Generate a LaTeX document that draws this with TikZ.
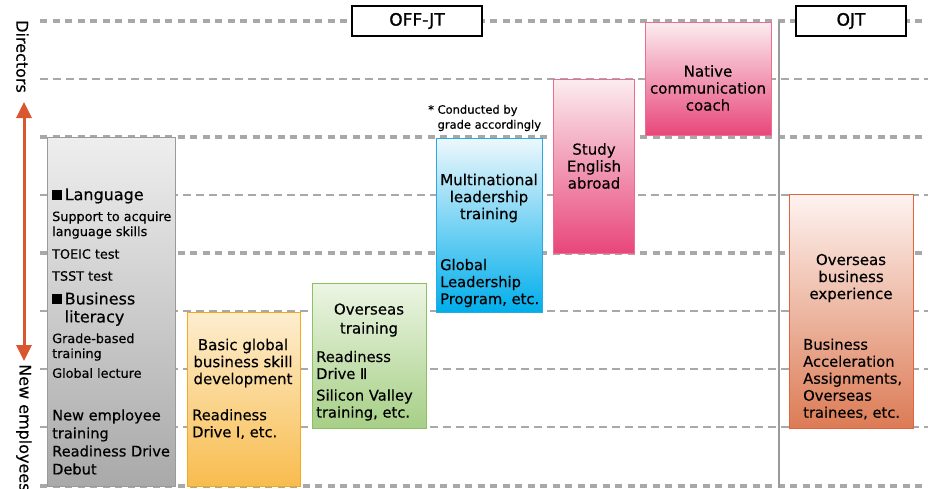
\documentclass[tikz,border=0pt]{standalone}
\usepackage{fontspec}
\setmainfont[FakeBold=0.4]{DejaVu Sans}
\newfontfamily\tagfont[FakeBold=1.2]{DejaVu Sans}
\usetikzlibrary{arrows.meta}
\definecolor{gridc}{HTML}{A8A8A8}
\definecolor{arrowc}{HTML}{D9572F}
\definecolor{grayT}{HTML}{EEEEEE}\definecolor{grayB}{HTML}{A9A9A9}\definecolor{grayD}{HTML}{9A9A9A}
\definecolor{orT}{HTML}{FDEECF}\definecolor{orB}{HTML}{F8BC4E}\definecolor{orD}{HTML}{F5A81C}
\definecolor{grT}{HTML}{ECF5E3}\definecolor{grB}{HTML}{A6CF86}\definecolor{grD}{HTML}{8CC063}
\definecolor{blT}{HTML}{EDF7FC}\definecolor{blB}{HTML}{00AEEB}\definecolor{blD}{HTML}{29ABE2}
\definecolor{pkT}{HTML}{FBECF0}\definecolor{pkB}{HTML}{E8467A}\definecolor{pkD}{HTML}{EC6C92}
\definecolor{ojT}{HTML}{FEF3F0}\definecolor{ojB}{HTML}{DC7B55}\definecolor{ojD}{HTML}{E2643E}
\newcommand{\bsq}{\rule[0.5pt]{9.5pt}{9.5pt}\hspace{3pt}}
\begin{document}
\begin{tikzpicture}[x=1pt,y=-1pt,
  major/.style={gridc,line width=4pt,dash pattern=on 7pt off 5.5pt},
  minor/.style={gridc,line width=1.3pt,dash pattern=on 8pt off 5pt},
  stage/.style={anchor=north west,inner sep=0pt,line width=1pt},
  title/.style={align=center,inner sep=0pt,font=\fontsize{15}{17}\selectfont},
  body/.style={align=left,anchor=west,inner sep=0pt,font=\fontsize{14.7}{17}\selectfont},
  small/.style={align=left,anchor=west,inner sep=0pt,font=\fontsize{12.8}{15}\selectfont},
  head/.style={align=left,anchor=west,inner sep=0pt,font=\fontsize{16}{18}\selectfont},
  tag/.style={draw=black,fill=white,line width=1.2pt,minimum width=130pt,minimum height=30pt,inner sep=0pt,font=\tagfont\fontsize{17}{18}\selectfont}]
\useasboundingbox (0,0) rectangle (928,488);

\foreach \y in {21,137,253,486} \draw[major] (40,\y) -- (928,\y);
\foreach \y in {79,195,311,369,427} \draw[minor] (40,\y) -- (928,\y);

\coordinate (Vtop) at (779,21);
\coordinate (Vbot) at (779,488);
\draw[grayD,line width=1.2pt] (Vtop) -- (Vbot);

\coordinate (Up) at (24,102);
\coordinate (Dn) at (24,361);
\draw[arrowc,line width=3pt,{Triangle[width=15pt,length=16pt]}-{Triangle[width=15pt,length=16pt]}] (Up) -- (Dn);
\node[rotate=-90,anchor=south west,inner sep=0pt,font=\fontsize{16}{18}\selectfont] (dir) at (16,20) {Directors};
\node[rotate=-90,anchor=south west,inner sep=0pt,font=\fontsize{16}{18}\selectfont] (newemp) at (16,364) {New employees};

\node[stage,draw=grayD,top color=grayT,bottom color=grayB,minimum width=128pt,minimum height=349pt] (basebox) at (47,137) {};
\node[stage,draw=orD,top color=orT,bottom color=orB,minimum width=113pt,minimum height=174pt] (basicbox) at (187,312) {};
\node[stage,draw=grD,top color=grT,bottom color=grB,minimum width=114pt,minimum height=145pt] (ovtrbox) at (312,283) {};
\node[stage,draw=blD,top color=blT,bottom color=blB,minimum width=106pt,minimum height=174pt] (multibox) at (436,138) {};
\node[stage,draw=pkD,top color=pkT,bottom color=pkB,minimum width=81pt,minimum height=174pt] (studybox) at (553,79) {};
\node[stage,draw=pkD,top color=pkT,bottom color=pkB,minimum width=126pt,minimum height=113pt] (nativebox) at (645,22) {};
\node[stage,draw=ojD,top color=ojT,bottom color=ojB,minimum width=124pt,minimum height=234pt] (ojtbox) at (789,194) {};

\node[tag] (offjt) at (417,21) {OFF-JT};
\node[tag,minimum width=110pt] (ojt) at (851,21) {OJT};

\node[head] (lang) at (52,196) {\bsq Language};
\node[small] (langa) at (52,225) {Support to acquire\\language skills};
\node[small] (toeic) at (52,254) {TOEIC test};
\node[small] (tsst) at (52,276) {TSST test};
\node[head] (biz) at (52,309) {\bsq Business\\\hphantom{\bsq}literacy};
\node[small] (grade) at (52,347) {Grade-based\\training};
\node[small] (glob) at (52,373) {Global lecture};
\node[body,font=\fontsize{14.6}{18}\selectfont] (newtr) at (52,442) {New employee\\training\\Readiness Drive\\Debut};

\node[title] (basicT) at (243,363) {Basic global\\business skill\\development};
\node[body] (basicB) at (192,424) {Readiness\\Drive I, etc.};

\node[title,font=\fontsize{15}{19}\selectfont] (ovtrT) at (369,320) {Overseas\\training};
\node[body] (ovtrB) at (316,365) {Readiness\\Drive Ⅱ};
\node[body] (ovtrC) at (316,405) {Silicon Valley\\training, etc.};

\node[align=left,anchor=west,inner sep=0pt,font=\fontsize{11.5}{15}\selectfont] (note) at (428,118) {* Conducted by\\\hphantom{* }grade accordingly};
\node[title] (multiT) at (489,198) {Multinational\\leadership\\training};
\node[body] (multiB) at (440,283) {Global\\Leadership\\Program, etc.};

\node[title] (studyT) at (594,166) {Study\\English\\abroad};
\node[title] (nativeT) at (708,88) {Native\\communication\\coach};

\node[title] (ojtT) at (851,278) {Overseas\\business\\experience};
\node[body] (ojtB) at (803,379) {Business\\Acceleration\\Assignments,\\Overseas\\trainees, etc.};
\end{tikzpicture}
\end{document}
